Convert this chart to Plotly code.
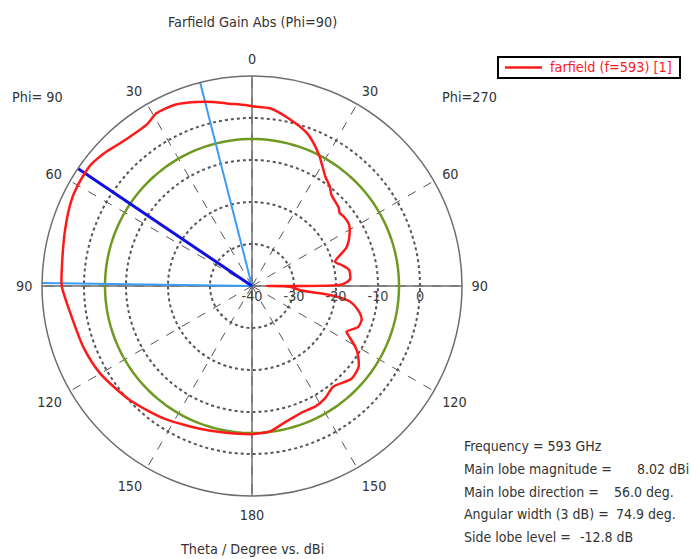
import plotly.graph_objects as go

# Gain cut in the Phi=90 half-plane (theta in degrees, gain in dBi)
theta_phi90 = [0, 2, 8, 12, 17, 23, 29, 33, 39, 44, 47, 53, 56, 60, 64.5, 73, 84, 90,
               98, 110, 120, 133, 147, 162, 172, 180]
gain_phi90 = [2.8, 3.1, 3.9, 4.8, 5.8, 6.9, 7.0, 5.9, 5.9, 6.5, 7.1, 8.0, 8.02, 7.9, 7.6,
              6.5, 5.5, 5.3, 3.8, 2.7, 1.7, -0.2, -2.2, -4.0, -4.6, -4.7]

# Gain cut in the Phi=270 half-plane
theta_phi270 = [0, 6, 12.8, 20, 27, 34, 38, 41, 48, 50, 53, 57, 59, 65, 68, 70, 73.7, 77,
                80.5, 86, 89, 90, 91, 95, 96.6, 99, 103, 107, 111, 115.8, 117, 121.4, 127,
                133, 141, 147, 152, 159, 167, 173, 177, 180]
gain_phi270 = [2.8, 2.5, 0.7, -1.4, -4.9, -8.7, -9.9, -11.2, -12.2, -12.8, -12.6, -12.6,
               -12.9, -14.6, -15.8, -17.3, -19.4, -18.0, -16.6, -16.6, -18.5, -36.5, -31.0,
               -28.5, -21.3, -16.4, -14.0, -12.7, -12.9, -15.0, -14.3, -10.8, -8.2, -7.6,
               -9.2, -8.1, -7.6, -7.6, -6.5, -5.1, -4.9, -4.7]

main_lobe_dir = 56.0          # deg
beam_edges = [14.3, 89.2]     # 3 dB beamwidth edges, deg
ref_circle_db = -5.0          # reference level circle, dBi

r_min, r_max = -40, 10
radial_ticks = [-40, -30, -20, -10, 0]
angle_ticks = list(range(0, 360, 30))
angle_labels = ["0", "30", "60", "90", "120", "150", "180", "150", "120", "90", "60", "30"]

info_labels = ["Frequency = 593 GHz", "Main lobe magnitude =", "Main lobe direction =",
               "Angular width (3 dB) =", "Side lobe level ="]
info_values = ["", "8.02 dBi", "56.0 deg.", "74.9 deg.", "-12.8 dB"]

series_name = "farfield (f=593) [1]"

FONT = "DejaVu Sans Condensed, Liberation Sans, sans-serif"
FS = 14.3
FS_INFO = 14
TXT = "#333333"
RED = "#ff1a1a"
W, H = 691, 559

# Combine both half-planes into one contour: Phi=90 on the left, Phi=270 on the right
ang = list(theta_phi90) + [360 - t for t in reversed(theta_phi270)]
gain = list(gain_phi90) + list(reversed(gain_phi270))

fig = go.Figure()

# solid vertical / horizontal axes through the centre
for a in (0, 90):
    fig.add_trace(go.Scatterpolar(r=[r_max, r_min, r_max], theta=[a, a, a + 180],
                                  mode="lines", line=dict(color="#6e6e6e", width=1.5),
                                  showlegend=False, hoverinfo="skip"))

# reference level circle
circ_t = [i * 2 for i in range(181)]
fig.add_trace(go.Scatterpolar(r=[ref_circle_db] * len(circ_t), theta=circ_t, mode="lines",
                              line=dict(color="#6f9a22", width=2.5),
                              showlegend=False, hoverinfo="skip"))

# beamwidth edges
for e in beam_edges:
    fig.add_trace(go.Scatterpolar(r=[r_min, r_max], theta=[e, e], mode="lines",
                                  line=dict(color="#3a9cf5", width=2),
                                  showlegend=False, hoverinfo="skip"))
# main lobe direction
fig.add_trace(go.Scatterpolar(r=[r_min, r_max], theta=[main_lobe_dir, main_lobe_dir],
                              mode="lines", line=dict(color="#1010e0", width=3),
                              showlegend=False, hoverinfo="skip"))

# farfield pattern
fig.add_trace(go.Scatterpolar(r=gain, theta=ang, mode="lines",
                              line=dict(color=RED, width=2.5, shape="spline", smoothing=0.7),
                              name=series_name, showlegend=False))

x0, x1 = 42 / W, 462 / W
y0, y1 = (H - 496) / H, (H - 76) / H

fig.update_layout(
    width=W, height=H,
    margin=dict(l=0, r=0, t=0, b=0),
    paper_bgcolor="white",
    font=dict(family=FONT, size=FS, color=TXT),
    showlegend=False,
    polar=dict(
        domain=dict(x=[x0, x1], y=[y0, y1]),
        bgcolor="white",
        radialaxis=dict(range=[r_min, r_max], tickvals=radial_ticks,
                        ticktext=[str(v) for v in radial_ticks],
                        angle=0, side="clockwise", showline=False, ticks="",
                        gridcolor="#555555", griddash="dot", gridwidth=1.5,
                        tickfont=dict(size=FS, color="#404040")),
        angularaxis=dict(rotation=90, direction="counterclockwise",
                         tickvals=angle_ticks, ticktext=angle_labels,
                         showline=True, linecolor="#6e6e6e", linewidth=1.5,
                         gridcolor="#555555", griddash="dash", gridwidth=1.3,
                         ticks="outside", ticklen=6, tickcolor="rgba(0,0,0,0)",
                         tickfont=dict(size=FS, color=TXT)),
    ),
)

def px(x, y):
    return x / W, 1 - y / H

# legend box with line sample and series name
lx0, ly0, lx1, ly1 = px(498, 57) + px(680, 78)
fig.add_shape(type="rect", xref="paper", yref="paper", x0=lx0, y0=ly1, x1=lx1, y1=ly0,
              line=dict(color="black", width=2), fillcolor="white")
sx0, sy = px(505, 67.5)
sx1, _ = px(542, 67.5)
fig.add_shape(type="line", xref="paper", yref="paper", x0=sx0, y0=sy, x1=sx1, y1=sy,
              line=dict(color=RED, width=2.5))
tx, ty = px(548, 67.5)
fig.add_annotation(text=series_name, x=tx, y=ty, xref="paper", yref="paper",
                   showarrow=False, xanchor="left", yanchor="middle",
                   font=dict(family=FONT, size=FS, color=RED))

ann = [
    ("Farfield Gain Abs (Phi=90)", 252, 22),
    ("Phi= 90", 37, 97),
    ("Phi=270", 469, 97),
    ("Theta / Degree vs. dBi", 252, 549),
]
for text, x, y in ann:
    ax, ay = px(x, y)
    fig.add_annotation(text=text, x=ax, y=ay, xref="paper", yref="paper",
                       showarrow=False, xanchor="center", yanchor="middle",
                       font=dict(family=FONT, size=FS, color=TXT))

info_y = [446, 469, 491.5, 514, 536.5]
value_x = [None, 635, 612, 614, 578]
for lbl, val, yy, vx in zip(info_labels, info_values, info_y, value_x):
    ax, ay = px(462, yy)
    fig.add_annotation(text=lbl, x=ax, y=ay, xref="paper", yref="paper",
                       showarrow=False, xanchor="left", yanchor="middle",
                       font=dict(family=FONT, size=FS_INFO, color=TXT))
    if val:
        vx_, _ = px(vx, yy)
        fig.add_annotation(text=val, x=vx_, y=ay, xref="paper", yref="paper",
                           showarrow=False, xanchor="left", yanchor="middle",
                           font=dict(family=FONT, size=FS_INFO, color=TXT))

fig.write_html("out.html")
